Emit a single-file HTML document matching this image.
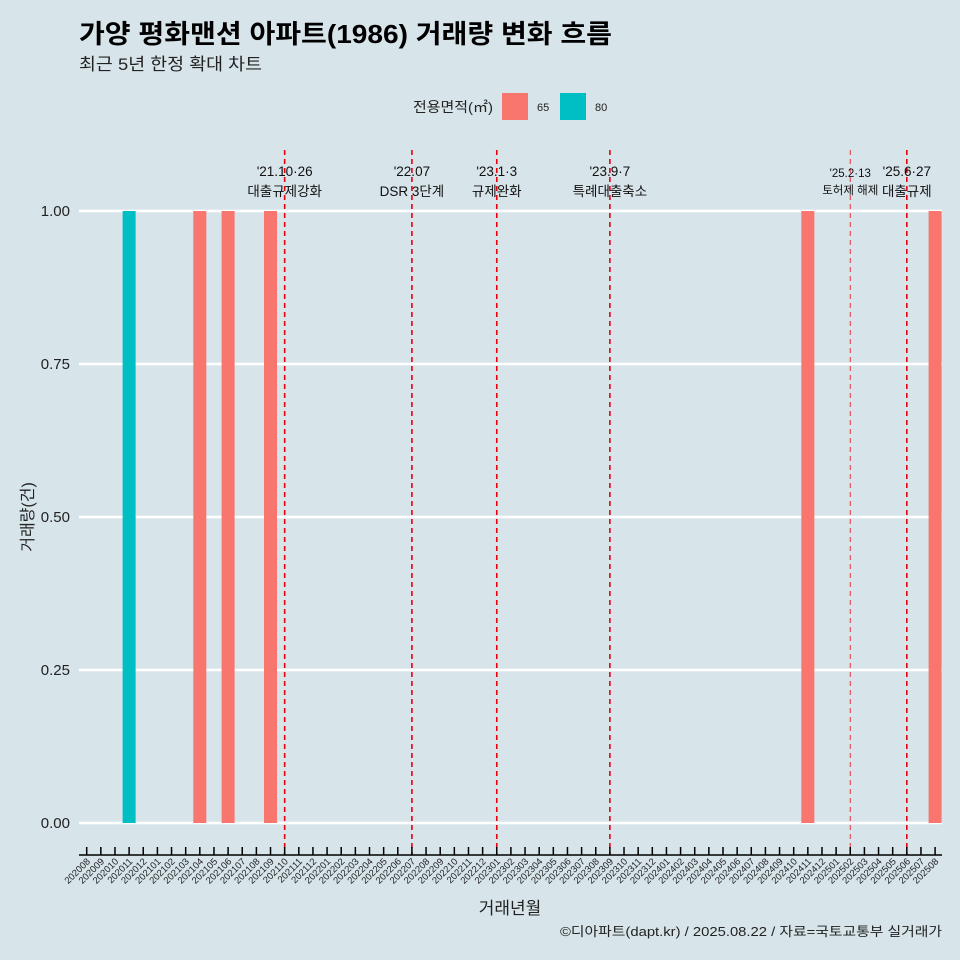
<!DOCTYPE html>
<html><head><meta charset="utf-8">
<style>
html,body{margin:0;padding:0;background:#d7e4ea;}
body{width:960px;height:960px;overflow:hidden;font-family:"Liberation Sans","Noto Sans CJK KR",sans-serif;}
svg{display:block;}
</style></head>
<body>
<svg id="chart" width="960" height="960" xmlns="http://www.w3.org/2000/svg" font-family="Liberation Sans, Noto Sans CJK KR, sans-serif">
<rect width="960" height="960" fill="#d7e4ea"/>
<text x="79" y="43" font-size="26" font-weight="bold" fill="#000" textLength="533" lengthAdjust="spacingAndGlyphs">가양 평화맨션 아파트(1986) 거래량 변화 흐름</text>
<text x="79" y="70" font-size="17" fill="#222" textLength="183" lengthAdjust="spacingAndGlyphs">최근 5년 한정 확대 차트</text>
<g>
<text x="413" y="112" font-size="14" fill="#222" textLength="80" lengthAdjust="spacingAndGlyphs">전용면적(㎡)</text>
<rect x="502" y="93" width="26" height="27" fill="#f8766d"/>
<text x="537" y="111" font-size="11" fill="#222">65</text>
<rect x="560" y="93" width="26" height="27" fill="#00bfc4"/>
<text x="595" y="111" font-size="11" fill="#222">80</text>
</g>
<g id="grid"></g><g id="bars"></g><g id="events"></g><g id="axes"></g>
<text transform="translate(33,517) rotate(-90)" text-anchor="middle" font-size="16" fill="#222">거래량(건)</text>
<text x="510" y="914" text-anchor="middle" font-size="17" fill="#222">거래년월</text>
<text x="942" y="936" text-anchor="end" font-size="13" fill="#222" textLength="382" lengthAdjust="spacingAndGlyphs">©디아파트(dapt.kr) / 2025.08.22 / 자료=국토교통부 실거래가</text>
</svg>
<script>
const months=[];for(let y=2020;y<=2025;y++)for(let m=1;m<=12;m++){const k=y*100+m;if(k>=202008&&k<=202508)months.push(String(k));}
const barMonths=["202011","202104","202106","202109","202411","202508"];
const barValues=[1,1,1,1,1,1];
const barTypes=["80","65","65","65","65","65"];
const yTicks=[0,0.25,0.5,0.75,1];
const yTickLabels=["0.00","0.25","0.50","0.75","1.00"];
const eventMonths=["202110","202207","202301","202309","202502","202506"];
const eventLine1=["'21.10·26","'22.07","'23.1·3","'23.9·7","'25.2·13","'25.6·27"];
const eventLine2=["대출규제강화","DSR 3단계","규제완화","특례대출축소","토허제 해제","대출규제"];
const NS="http://www.w3.org/2000/svg";
const x=m=>86.7+months.indexOf(m)*14.14;
const y=v=>823-v*612;
function mk(p,t,a){const e=document.createElementNS(NS,t);for(const k in a)e.setAttribute(k,a[k]);p.appendChild(e);return e;}
const g=document.getElementById('grid'),b=document.getElementById('bars'),ev=document.getElementById('events'),ax=document.getElementById('axes');
yTicks.forEach((v,i)=>{
 const l=mk(g,'line',{x1:79,x2:942,y1:y(v),y2:y(v),stroke:'#fff','stroke-width':2.5});
 
 
 const t=mk(g,'text',{x:70,y:y(v)+5,'text-anchor':'end','font-size':15,fill:'#222'});t.textContent=yTickLabels[i];
 
 
});
barMonths.forEach((m,i)=>{
 const r=mk(b,'rect',{x:x(m)-6.5,y:y(barValues[i]),width:13,height:y(0)-y(barValues[i]),fill:barTypes[i]==="80"?'#00bfc4':'#f8766d'});
 
 
});
eventMonths.forEach((m,i)=>{
 const thin=m==="202502";
 const l=mk(ev,'line',{x1:x(m),x2:x(m),y1:150,y2:855,stroke:thin?'#e8323a':'#e8000b','stroke-width':thin?1:1.6,'stroke-dasharray':'5,4'});
 
 
 const fs=thin?11.5:13.5;
 const t1=mk(ev,'text',{x:x(m),y:thin?177:176,'text-anchor':'middle','font-size':fs,fill:'#111'});t1.textContent=eventLine1[i];
 
 
 const t2=mk(ev,'text',{x:x(m),y:thin?194:196,'text-anchor':'middle','font-size':fs,fill:'#111'});t2.textContent=eventLine2[i];
 
 
});
const al=mk(ax,'line',{x1:79,x2:942,y1:855,y2:855,stroke:'#000','stroke-width':1.5});


months.forEach(m=>{
 const tk=mk(ax,'line',{x1:x(m),x2:x(m),y1:847,y2:855,stroke:'#000','stroke-width':1.5});
 
 
 const t=mk(ax,'text',{x:x(m)+4,y:862,'text-anchor':'end','font-size':9.5,fill:'#222',transform:`rotate(-45 ${x(m)+4} 862)`});t.textContent=m;
 
 
});
</script>
</body></html>
